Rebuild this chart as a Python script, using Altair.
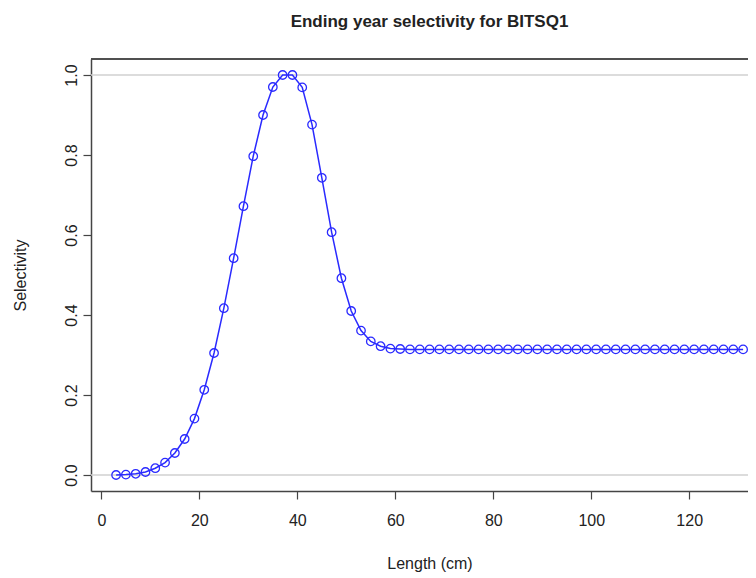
import altair as alt
import pandas as pd

lengths = [3, 5, 7, 9, 11, 13, 15, 17, 19, 21, 23, 25, 27, 29, 31, 33, 35, 37, 39, 41,
           43, 45, 47, 49, 51, 53, 55, 57, 59, 61, 63, 65, 67, 69, 71, 73, 75, 77, 79, 81,
           83, 85, 87, 89, 91, 93, 95, 97, 99, 101, 103, 105, 107, 109, 111, 113, 115, 117,
           119, 121, 123, 125, 127, 129, 131]
selectivity = [0.000, 0.001, 0.003, 0.0075, 0.017, 0.031, 0.055, 0.090, 0.141, 0.213,
               0.305, 0.417, 0.542, 0.672, 0.797, 0.900, 0.970, 1.000, 1.000, 0.969,
               0.876, 0.743, 0.607, 0.492, 0.410, 0.361, 0.334, 0.322, 0.316, 0.315,
               0.314, 0.314, 0.314, 0.314, 0.314, 0.314, 0.314, 0.314, 0.314, 0.314,
               0.314, 0.314, 0.314, 0.314, 0.314, 0.314, 0.314, 0.314, 0.314, 0.314,
               0.314, 0.314, 0.314, 0.314, 0.314, 0.314, 0.314, 0.314, 0.314, 0.314,
               0.314, 0.314, 0.314, 0.314, 0.314]
x_ticks = [0, 20, 40, 60, 80, 100, 120]
y_ticks = [0.0, 0.2, 0.4, 0.6, 0.8, 1.0]
ref_levels = [0.0, 1.0]

df = pd.DataFrame({"Length": lengths, "Selectivity": selectivity})
ref = pd.DataFrame({"level": ref_levels})

W, H = 657, 432
FONT = "Liberation Sans"
AXC = "#444444"
TXT = "#222222"
BLUE = "#2a2aff"

xscale = alt.Scale(domain=[-2.12, 132.0], nice=False, zero=False)
yscale = alt.Scale(domain=[-0.04, 1.04], nice=False, zero=False)

xaxis = alt.Axis(values=x_ticks, format="d", title="Length (cm)", grid=False,
                 tickSize=8, tickColor=AXC, tickWidth=1.2,
                 domainColor=AXC, domainWidth=1.5,
                 labelPadding=13, labelFontSize=16, labelFont=FONT, labelColor=TXT,
                 titleFontSize=16, titleFont=FONT, titleColor=TXT, titleFontWeight="normal",
                 titleX=338.5, titleY=72, titleBaseline="middle", titleAlign="center")
yaxis = alt.Axis(values=y_ticks, format=".1f", title="Selectivity", grid=False,
                 tickSize=8, tickColor=AXC, tickWidth=1.2,
                 domainColor=AXC, domainWidth=1.5,
                 labelAngle=270, labelPadding=4, labelFontSize=16, labelFont=FONT,
                 labelColor=TXT, labelAlign="center", labelBaseline="bottom",
                 titleFontSize=16, titleFont=FONT, titleColor=TXT, titleFontWeight="normal",
                 titleAngle=270, titleX=-71, titleY=H / 2, titleBaseline="middle",
                 titleAlign="center")

refs = alt.Chart(ref).mark_rule(color="#d0d0d0", strokeWidth=1.5).encode(
    y=alt.Y("level:Q", scale=yscale, axis=yaxis)
)
top = alt.Chart(ref).mark_rule(color=AXC, strokeWidth=1.5).encode(
    x=alt.value(0), x2=alt.value(W), y=alt.value(0)
)
line = alt.Chart(df).mark_line(color=BLUE, strokeWidth=1.5).encode(
    x=alt.X("Length:Q", scale=xscale, axis=xaxis),
    y=alt.Y("Selectivity:Q", scale=yscale, axis=yaxis),
)
pts = alt.Chart(df).mark_point(shape="circle", filled=False, size=72,
                               color=BLUE, strokeWidth=1.3, opacity=1).encode(
    x=alt.X("Length:Q", scale=xscale, axis=xaxis),
    y=alt.Y("Selectivity:Q", scale=yscale, axis=yaxis),
)

chart = alt.layer(refs, top, line, pts).properties(
    width=W, height=H,
    title=alt.TitleParams(text="Ending year selectivity for BITSQ1", font=FONT,
                          fontSize=17, fontWeight="bold", color=TXT, anchor="middle",
                          dx=10, offset=14, baseline="alphabetic"),
    padding={"left": 83, "top": 51, "right": 0, "bottom": 84},
    autosize=alt.AutoSizeParams(type="none"),
).configure_view(stroke=None)

chart.save("out.html", embed_options={"renderer": "svg", "actions": False})
